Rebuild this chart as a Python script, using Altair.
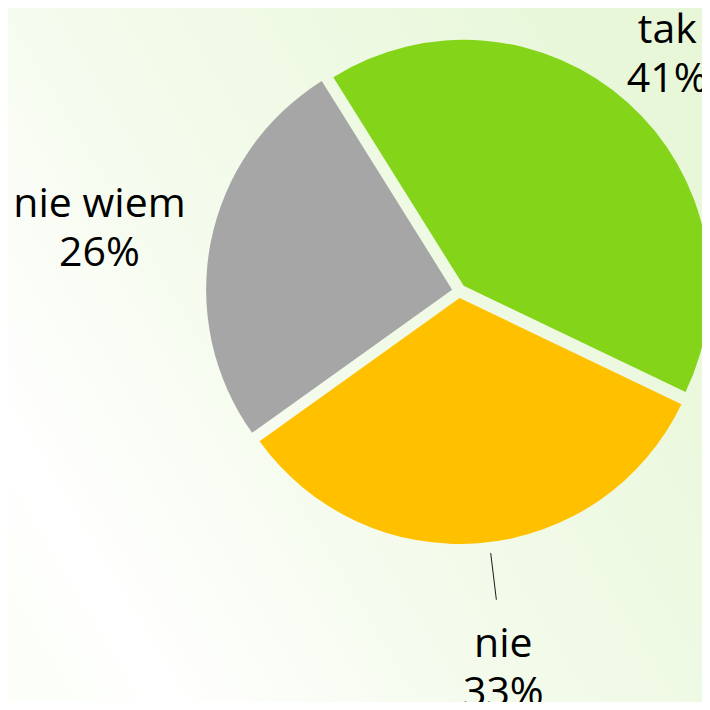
import altair as alt
import numpy as np
import pandas as pd

# ---- data ----
categories = ["tak", "nie", "nie wiem"]
values = [41, 33, 26]
pct_labels = ["41%", "33%", "26%"]

# ---- style / layout ----
colors = ["#84D41A", "#FFC000", "#A6A6A6"]
W, H = 694, 694
CX, CY = 451, 283          # pie centre inside the chart
R = 246                    # pie radius
EXPLODE = 7                # slice explosion distance
START_DEG = -32            # angle of first slice edge (clockwise from 12 o'clock)
label_radius = [324, 369, 367]
label_shift_deg = [-1.8, -1.9, 0.4]
leader_r = (264, 311)
FONT = "Open Sans"

start = np.deg2rad(START_DEG)
theta_range = [start + 2 * np.pi, start + 4 * np.pi]

df = pd.DataFrame({"cat": categories, "value": values, "pct": pct_labels,
                   "order": list(range(len(values)))})
total = float(sum(values))
cum = np.concatenate([[0], np.cumsum(values)[:-1]])
mid = start + 2 * np.pi * (cum + np.array(values) / 2) / total
df["cx"] = CX + EXPLODE * np.sin(mid)
df["cy"] = CY - EXPLODE * np.cos(mid)
lab_ang = mid + np.deg2rad(label_shift_deg)
df["tx"] = CX + np.array(label_radius) * np.sin(lab_ang)
df["ty"] = CY - np.array(label_radius) * np.cos(lab_ang)
df["text"] = df["cat"] + "\n" + df["pct"]

# leader line for "nie"
i = categories.index("nie")
a = lab_ang[i]
lead = pd.DataFrame({
    "x": [CX + leader_r[0] * np.sin(a)],
    "y": [CY - leader_r[0] * np.cos(a)],
    "x2": [CX + leader_r[1] * np.sin(a)],
    "y2": [CY - leader_r[1] * np.cos(a)],
})

theta_scale = alt.Scale(range=theta_range)

bg = alt.Chart(pd.DataFrame({"a": [0]})).mark_rect(
    color=alt.LinearGradient(
        gradient="linear",
        x1=0, y1=0.85, x2=1, y2=0.25,
        stops=[
            alt.GradientStop(offset=0, color="#FCFFF9"),
            alt.GradientStop(offset=0.1, color="#FFFFFF"),
            alt.GradientStop(offset=0.45, color="#F4FBEC"),
            alt.GradientStop(offset=1, color="#E7F7D8"),
        ],
    )
).encode(x=alt.value(0), x2=alt.value(W), y=alt.value(0), y2=alt.value(H))

arcs = alt.Chart(df).mark_arc(outerRadius=R).encode(
    theta=alt.Theta("value:Q", stack=True, scale=theta_scale),
    color=alt.Color("cat:N", scale=alt.Scale(domain=categories, range=colors), legend=None),
    order=alt.Order("order:Q"),
    x=alt.X("cx:Q", scale=None),
    y=alt.Y("cy:Q", scale=None),
)

texts = alt.Chart(df).mark_text(
    lineBreak="\n", font=FONT, fontSize=41, lineHeight=49,
    align="center", baseline="alphabetic", color="#000000",
).encode(
    x=alt.X("tx:Q", scale=None),
    y=alt.Y("ty:Q", scale=None),
    text=alt.Text("text:N"),
)

leader = alt.Chart(lead).mark_rule(color="#1a1a1a", strokeWidth=1).encode(
    x=alt.X("x:Q", scale=None), y=alt.Y("y:Q", scale=None),
    x2="x2:Q", y2="y2:Q",
)

chart = alt.layer(bg, arcs, leader, texts).properties(
    width=W, height=H, autosize="none", padding=0
).configure_view(stroke=None)

chart.save("out.html", embed_options={"renderer": "svg", "actions": False})
